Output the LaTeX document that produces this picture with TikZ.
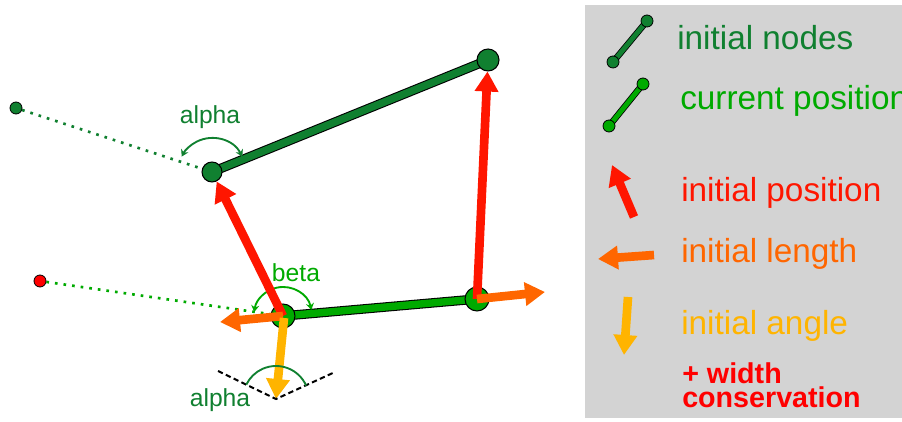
\documentclass[tikz,border=0pt]{standalone}
\usepackage{fontspec}
\setmainfont{Liberation Sans}
\usetikzlibrary{arrows.meta,backgrounds}

\definecolor{darkgreen}{RGB}{16,128,48}
\definecolor{litegreen}{RGB}{0,170,0}
\definecolor{posred}{RGB}{255,22,0}
\definecolor{lenorange}{RGB}{255,102,0}
\definecolor{angyellow}{RGB}{255,180,0}
\definecolor{keygray}{RGB}{211,211,211}

\begin{document}
\begin{tikzpicture}[x=0.75pt, y=0.75pt,
    inode/.style={circle, draw=black, line width=0.8pt, fill=darkgreen, minimum size=15pt, inner sep=0pt},
    cnode/.style={inode, fill=litegreen, minimum size=18pt},
    dotnode/.style={circle, draw=black, line width=0.6pt, minimum size=9pt, inner sep=0pt},
    link/.style={draw=black, line width=0.8pt, double distance=5.5pt},
    trail/.style={line width=2pt, dash pattern=on 2pt off 4.5pt},
    arr/.style={-{Triangle[length=15pt, width=17pt]}, line width=6.5pt},
    twoway/.style={{Stealth[length=5pt, width=6pt]}-{Stealth[length=5pt, width=6pt]}},
    anglearc/.style={line width=1.4pt},
    lbl/.style={font=\fontsize{18.5}{20}\selectfont},
    legtext/.style={anchor=base west, inner sep=0pt, font=\fontsize{25}{28}\selectfont},
]
\useasboundingbox (0,0) rectangle (902,421);
\clip (0,0) rectangle (902,421);

% --- Nodes ---
\node[inode] (in1) at (212,249) {};
\node[inode, minimum size=16.5pt] (in2) at (488,361) {};
\node[cnode] (cn1) at (283,105) {};
\node[cnode] (cn2) at (477,122) {};
\node[dotnode, fill=darkgreen] (old) at (16,313) {};
\node[dotnode, fill=red] (prev) at (40,140) {};

% links and trails behind the nodes
\begin{scope}[on background layer]
\draw[link, double=darkgreen] (in1.center) -- (in2.center);
\draw[link, double=litegreen] (cn1.center) -- (cn2.center);
\draw[trail, darkgreen] (old) -- (in1.center);
\draw[trail, litegreen] (prev) -- (cn1.center);
\end{scope}

% angle at the initial node
\draw[anglearc, twoway, darkgreen] ([shift={(27:34)}]in1.center) arc[start angle=27, end angle=153, radius=34];
\node[lbl, text=darkgreen] (alpha1) at (210,304) {alpha};

% angle at the current node
\draw[anglearc, twoway, litegreen] ([shift={(12:29)}]cn1.center) arc[start angle=12, end angle=172, radius=29];
\node[lbl, text=litegreen] (beta) at (296,148) {beta};

% --- Forces ---
\coordinate (lenL) at (220,99);
\coordinate (lenR) at (545,129);
\coordinate (apex) at (276,22);
\draw[arr, posred] (cn1.center) -- (in1);
\draw[arr, posred] (cn2.center) -- (in2);
\draw[arr, lenorange] (cn1.center) -- (lenL);
\draw[arr, lenorange] (cn2.center) -- (lenR);
\draw[arr, angyellow] (284,103) -- (apex);

% reference angle below
\coordinate (wingL) at (218,50);
\coordinate (wingR) at (335,49);
\draw[black, line width=1.5pt, dash pattern=on 4pt off 2.5pt] (wingL) -- (apex) -- (wingR);
\draw[anglearc, darkgreen] ([shift={(24:33)}]apex) arc[start angle=24, end angle=154, radius=33];
\node[lbl, text=darkgreen] (alpha2) at (220,21) {alpha};

% --- Legend entries ---
\node[inode, minimum size=9pt, line width=0.6pt] (k1a) at (613,359) {};
\node[inode, minimum size=9pt, line width=0.6pt] (k1b) at (647,400) {};
\node[inode, fill=litegreen, minimum size=9pt, line width=0.6pt] (k2a) at (609,295) {};
\node[inode, fill=litegreen, minimum size=9pt, line width=0.6pt] (k2b) at (643,337) {};
\begin{scope}[on background layer]
\fill[keygray] (585,3) rectangle (910,416);
\draw[link, line width=0.6pt, double distance=3.6pt, double=darkgreen] (k1a.center) -- (k1b.center);
\draw[link, line width=0.6pt, double distance=3.6pt, double=litegreen] (k2a.center) -- (k2b.center);
\end{scope}

\coordinate (kposA) at (634,204);
\coordinate (kposB) at (612,256);
\coordinate (klenA) at (654,166);
\coordinate (klenB) at (598,162);
\coordinate (kangA) at (628,124);
\coordinate (kangB) at (624,66);
\draw[arr, posred] (kposA) -- (kposB);
\draw[arr, lenorange] (klenA) -- (klenB);
\draw[arr, angyellow] (kangA) -- (kangB);

\node[legtext, text=darkgreen] (t1) at (677,371) {initial nodes};
\node[legtext, text=litegreen] (t2) at (680,311) {current position};
\node[legtext, text=posred] (t3) at (681,219) {initial position};
\node[legtext, text=lenorange] (t4) at (681,158) {initial length};
\node[legtext, text=angyellow] (t5) at (681,86) {initial angle};
\node[legtext, text=red, align=left, font=\fontsize{21.5}{18}\selectfont\bfseries] (t6) at (682,14) {+ width\\conservation};
\end{tikzpicture}
\end{document}
